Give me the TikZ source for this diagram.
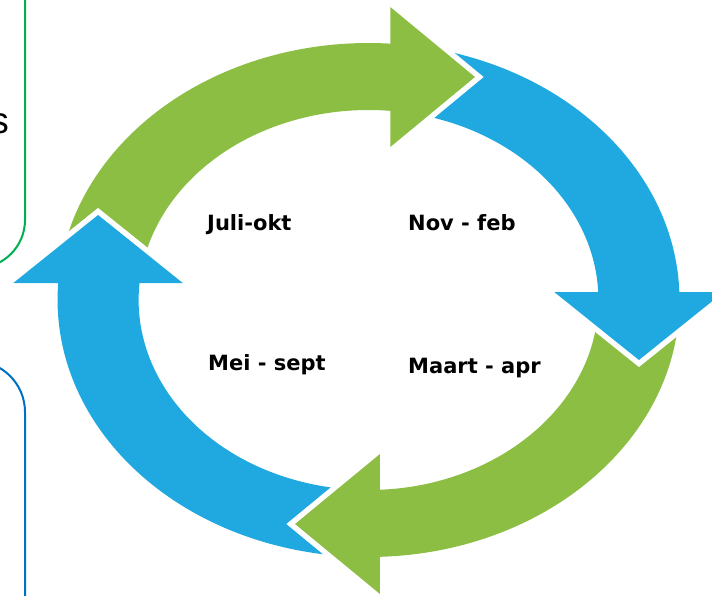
\documentclass[tikz,border=0pt]{standalone}
\usepackage{fontspec}
\setmainfont{DejaVu Sans}
\newfontfamily\lab{DejaVu Sans}
\newfontfamily\sidefont{Liberation Sans}
\definecolor{agreen}{HTML}{8BBE43}
\definecolor{ablue}{HTML}{20A8E0}
\definecolor{bgreen}{HTML}{00B050}
\definecolor{bblue}{HTML}{0070C0}
\newcommand\ringseg[3]{\fill[#1] (#2:257pt) arc[start angle=#2, end angle=#3, radius=257pt] -- (#3:190pt) arc[start angle=#3, end angle=#2, radius=190pt] -- cycle;}
\newcommand\headtri[4]{\draw[gapline] #2 -- #3 -- #4; \fill[#1] #2 -- #3 -- #4 -- cycle;}
\begin{document}
\begin{tikzpicture}[x=1pt,y=1pt,
  lbl/.style={font=\lab\bfseries\fontsize{21}{24}\selectfont, anchor=base west, inner sep=0pt},
  gapline/.style={draw=white, line width=11pt, line join=miter},
  boxline/.style={line width=2pt}]
\useasboundingbox (0,0) rectangle (712,-596);
\begin{scope}
\clip (0,0) rectangle (712,-596);
% partial side boxes
\draw[boxline, bgreen, rounded corners=48pt] (25,20) -- (25,-268) -- (-80,-268);
\draw[boxline, bblue, rounded corners=51pt] (-80,-361) -- (25,-361) -- (25,-620);
\node[font=\sidefont\fontsize{37}{40}\selectfont, anchor=base east, inner sep=0pt] (s) at (9,-134) {s};
% cycle
\begin{scope}[shift={(368.5,-300)}, xscale=1.21]
  \ringseg{agreen}{173.6}{83.3}
  \ringseg{ablue}{83.3}{0}
  \ringseg{agreen}{0}{-89.6}
  \ringseg{ablue}{-89.6}{-186.4}
  \headtri{agreen}{(18,293)}{(88,223)}{(18,153)}
  \headtri{ablue}{(153.5,8)}{(223.5,-60)}{(293.5,8)}
  \headtri{agreen}{(9.5,-154)}{(-60.7,-224)}{(9.5,-294)}
  \headtri{ablue}{(-293.5,17)}{(-223.5,85)}{(-153.5,17)}
\end{scope}
\end{scope}
\node[lbl] (juli) at (207,-230) {Juli-okt};
\node[lbl] (nov) at (408,-230) {Nov - feb};
\node[lbl] (mei) at (208,-370) {Mei - sept};
\node[lbl] (maart) at (408,-373) {Maart - apr};
\end{tikzpicture}
\end{document}
